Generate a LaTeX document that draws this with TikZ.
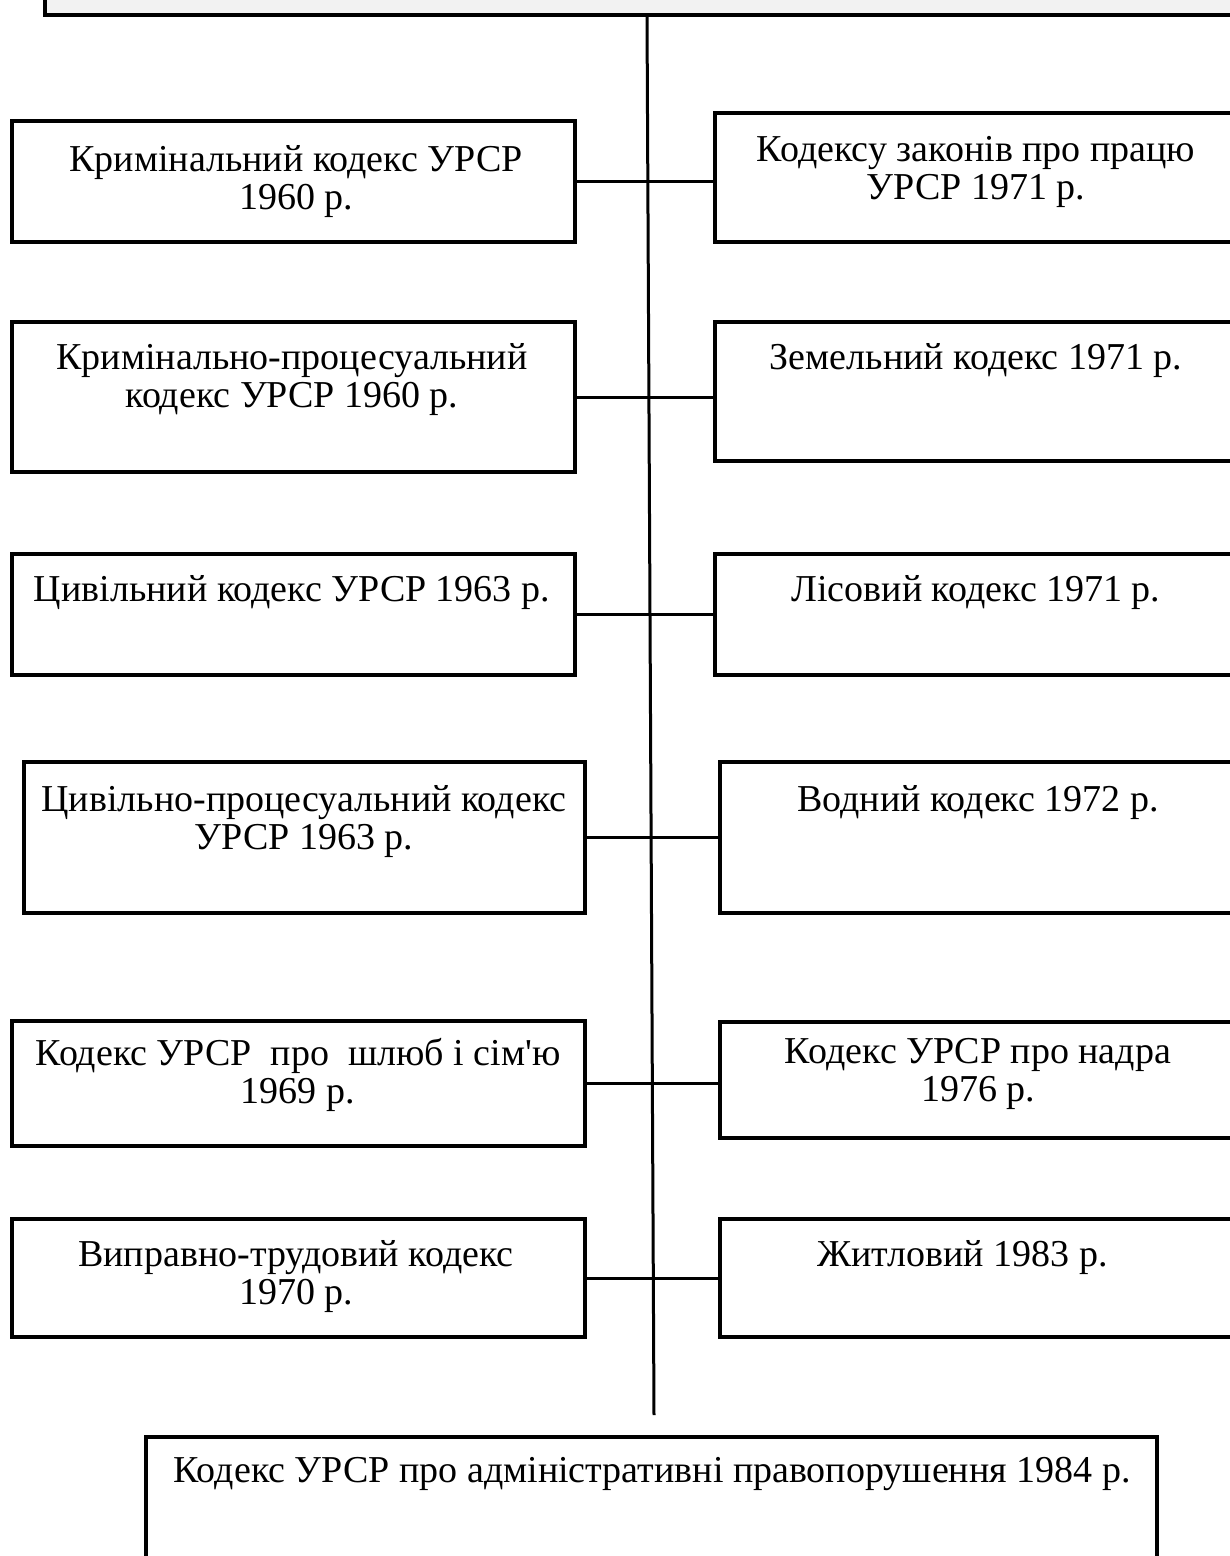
\documentclass[tikz,border=0pt]{standalone}
\usepackage{fontspec}
\setmainfont{Liberation Serif}
\usetikzlibrary{fit, calc}
\definecolor{headgray}{HTML}{F2F2F2}
\tikzset{
  codebox/.style={draw=black, line width=3.5pt, inner sep=0pt},
  codetext/.style={font=\fontsize{38}{38}\selectfont, align=center, inner sep=0pt, anchor=north},
  link/.style={line width=3pt}
}
\begin{document}
\begin{tikzpicture}[x=1pt, y=-1pt]
  \useasboundingbox (0,0) rectangle (1230,1556);

  % header box, cut by the page edge
  \node[codebox, fill=headgray, fit={(45,-80) (1280,15)}] (head) {};
  \coordinate (spinetop) at (647,15);
  \coordinate (spineend) at (654,1415);
  \draw[link] (spinetop) -- (spineend);

  \foreach \n/\xa/\ya/\xb/\yb/\tx/\ty/\txt in {
    l1/12/121/575/242/296/145/Кримінальний кодекс УРСР\\1960 р.,
    r1/715/113/1260/242/976/136/Кодексу законів про працю\\УРСР 1971 р.,
    l2/12/322/575/472/292/343/Кримінально-процесуальний\\кодекс УРСР 1960 р.,
    r2/715/322/1260/461/976/343/Земельний кодекс 1971 р.,
    l3/12/554/575/675/292/575/Цивільний кодекс УРСР 1963 р.,
    r3/715/554/1260/675/976/575/Лісовий кодекс 1971 р.,
    l4/24/762/585/913/304/785/Цивільно-процесуальний кодекс\\УРСР 1963 р.,
    r4/720/762/1260/913/978/785/Водний кодекс 1972 р.,
    l5/12/1021/585/1146/298/1038/Кодекс УРСР\ \ про\ \ шлюб і сім\textquotesingle ю\\1969 р.,
    r5/720/1022/1260/1138/978/1038/Кодекс УРСР про надра\\1976 р.,
    l6/12/1219/585/1337/296/1240/Виправно-трудовий кодекс\\1970 р.,
    r6/720/1219/1260/1337/969/1240/Житловий 1983 р.
  }{
    \node[codebox, fit={(\xa,\ya) (\xb,\yb)}] (\n) {};
    \node[codetext] (\n txt) at (\tx,\ty) {\txt};
  }

  \foreach \i in {1,...,6}{
    \draw[link] (l\i.east) -- (l\i.east -| r\i.west);
  }

  % closing box, cut by the page edge
  \node[codebox, fit={(146,1437) (1157,1620)}] (adm) {};
  \node[codetext] (admtxt) at (652,1457) {Кодекс УРСР про адміністративні правопорушення 1984 р.};
\end{tikzpicture}
\end{document}
